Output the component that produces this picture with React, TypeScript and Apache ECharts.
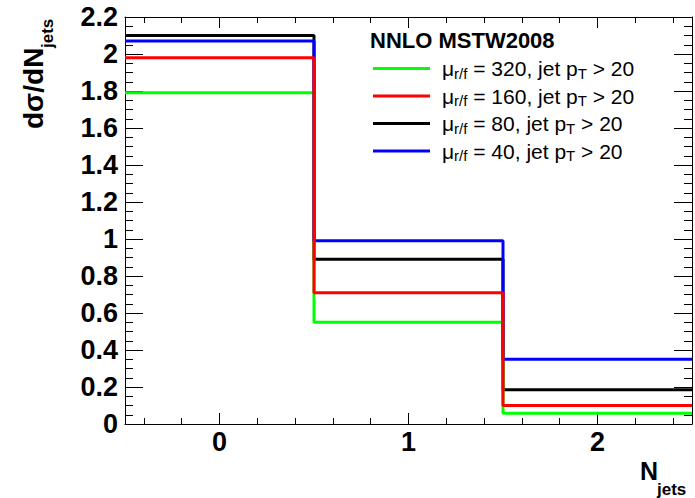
import React, { useEffect, useRef } from "react";
import * as echarts from "echarts";

// Bin centres (N_jets) and bin edges
const binCenters = [0, 1, 2];
const binWidth = 1;

// Series: scale mu_r/f values and dσ/dN_jets per bin
const scales = ["320", "160", "80", "40"];
const ptCut = 20;
const mu320 = [1.79, 0.55, 0.058];
const mu160 = [1.98, 0.71, 0.1];
const mu80 = [2.1, 0.89, 0.185];
const mu40 = [2.07, 0.99, 0.35];

const seriesValues = [mu320, mu160, mu80, mu40];
const seriesColors = ["#00ff00", "#ff0000", "#000000", "#0000ff"];
const seriesZ = [3, 5, 2, 4];

// Tick ranges / steps (x)
const xMinorRange = [-0.4, 2.4];
const xMinorStep = 0.2;
const xMajorRange = [0, 2];
const xMajorStep = 1;
// y axis
const yMin = 0;
const yMax = 2.2;
const yInterval = 0.2;

const FONT = "Liberation Sans";

function stepData(vals: number[]) {
  const pts: [number, number][] = [];
  vals.forEach((v, i) => {
    pts.push([binCenters[i] - binWidth / 2, v]);
    pts.push([binCenters[i] + binWidth / 2, v]);
  });
  return pts;
}

export default function App() {
  const ref = useRef<HTMLDivElement>(null);
  useEffect(() => {
    if (!ref.current) return;
    const chart = echarts.init(ref.current, null, { renderer: "svg" });
    const xMin = binCenters[0] - binWidth / 2;
    const xMax = binCenters[binCenters.length - 1] + binWidth / 2;

    // main plot frame
    const G = { left: 125, top: 17, width: 567, height: 407 };
    const pxPerUnit = G.width / (xMax - xMin);
    const subGrid = (r: number[]) => ({
      left: G.left + (r[0] - xMin) * pxPerUnit,
      top: G.top,
      width: (r[1] - r[0]) * pxPerUnit,
      height: G.height,
      containLabel: false,
    });

    const axisLine = { show: true, onZero: false, lineStyle: { color: "#000", width: 1 } };
    const noLine = { show: false, onZero: false };
    const tickStyle = { color: "#000", width: 1 };

    const tickAxis = (gridIndex: number, r: number[], step: number, position: string, len: number, labels: boolean) => ({
      type: "value",
      gridIndex,
      min: r[0],
      max: r[1],
      interval: step,
      position,
      axisLine: noLine,
      splitLine: { show: false },
      axisTick: { show: true, inside: true, length: len, lineStyle: tickStyle },
      axisLabel: labels
        ? { show: true, fontFamily: FONT, fontWeight: "bold", fontSize: 27, color: "#000", margin: 4 }
        : { show: false },
    });

    const hiddenY = (gridIndex: number) => ({
      type: "value",
      gridIndex,
      min: yMin,
      max: yMax,
      show: false,
    });

    const option: any = {
      animation: false,
      backgroundColor: "#fff",
      grid: [{ ...G, containLabel: false }, subGrid(xMinorRange), subGrid(xMajorRange)],
      xAxis: [
        {
          type: "value",
          gridIndex: 0,
          min: xMin,
          max: xMax,
          position: "bottom",
          axisLine,
          axisTick: { show: false },
          axisLabel: { show: false },
          splitLine: { show: false },
        },
        {
          type: "value",
          gridIndex: 0,
          min: xMin,
          max: xMax,
          position: "top",
          axisLine,
          axisTick: { show: false },
          axisLabel: { show: false },
          splitLine: { show: false },
        },
        tickAxis(1, xMinorRange, xMinorStep, "bottom", 6, false),
        tickAxis(1, xMinorRange, xMinorStep, "top", 6, false),
        tickAxis(2, xMajorRange, xMajorStep, "bottom", 11, true),
        tickAxis(2, xMajorRange, xMajorStep, "top", 11, false),
      ],
      yAxis: [
        {
          type: "value",
          gridIndex: 0,
          min: yMin,
          max: yMax,
          interval: yInterval,
          position: "left",
          axisLine,
          splitLine: { show: false },
          axisTick: { show: true, inside: true, length: 18, lineStyle: tickStyle },
          minorTick: { show: true, splitNumber: 4, length: 8, lineStyle: tickStyle },
          minorSplitLine: { show: false },
          axisLabel: {
            fontFamily: FONT,
            fontWeight: "bold",
            fontSize: 27,
            color: "#000",
            margin: 7,
            formatter: (v: number) => String(parseFloat(v.toFixed(1))),
          },
        },
        {
          type: "value",
          gridIndex: 0,
          min: yMin,
          max: yMax,
          interval: yInterval,
          position: "right",
          axisLine,
          splitLine: { show: false },
          axisTick: { show: true, inside: true, length: 18, lineStyle: tickStyle },
          minorTick: { show: true, splitNumber: 4, length: 8, lineStyle: tickStyle },
          minorSplitLine: { show: false },
          axisLabel: { show: false },
        },
        hiddenY(1),
        hiddenY(2),
      ],
      legend: {
        orient: "vertical",
        left: 373,
        top: 58,
        icon: "rect",
        itemWidth: 57,
        itemHeight: 3,
        itemGap: 5,
        padding: 0,
        data: scales,
        formatter: (name: string) =>
          `{mu|μ}{sub|r/f}{t| = ${name}, jet p}{sub|T}{t| > ${ptCut}}`,
        textStyle: {
          fontFamily: FONT,
          color: "#000",
          rich: {
            mu: { fontFamily: FONT, fontSize: 21, lineHeight: 24, color: "#000", padding: [0, 0, 0, 7] },
            t: { fontFamily: FONT, fontSize: 21, lineHeight: 24, color: "#000" },
            sub: { fontFamily: FONT, fontSize: 15, lineHeight: 12, color: "#000", verticalAlign: "bottom" },
          },
        },
      },
      graphic: [
        {
          type: "text",
          x: 370,
          y: 40,
          style: {
            text: "NNLO MSTW2008",
            font: `bold 22px "${FONT}"`,
            fill: "#000",
            verticalAlign: "middle",
          },
        },
        {
          type: "text",
          x: 640,
          y: 471,
          style: { text: "N", font: `bold 25px "${FONT}"`, fill: "#000", verticalAlign: "middle" },
        },
        {
          type: "text",
          x: 657,
          y: 489,
          style: { text: "jets", font: `bold 17px "${FONT}"`, fill: "#000", verticalAlign: "middle" },
        },
        {
          type: "text",
          x: 33.5,
          y: 129,
          rotation: Math.PI / 2,
          style: { text: "dσ/dN", font: `bold 28px "${FONT}"`, fill: "#000", verticalAlign: "middle", align: "left" },
        },
        {
          type: "text",
          x: 47.5,
          y: 48,
          rotation: Math.PI / 2,
          style: { text: "jets", font: `bold 17px "${FONT}"`, fill: "#000", verticalAlign: "middle", align: "left" },
        },
      ],
      series: scales.map((name, i) => ({
        name,
        type: "line",
        xAxisIndex: 0,
        yAxisIndex: 0,
        data: stepData(seriesValues[i]),
        symbol: "none",
        showSymbol: false,
        z: seriesZ[i],
        lineStyle: { color: seriesColors[i], width: 3 },
        itemStyle: { color: seriesColors[i] },
      })),
    };
    chart.setOption(option);
    return () => chart.dispose();
  }, []);
  return <div ref={ref} style={{ width: 695, height: 498, position: "absolute", left: 0, top: 0 }} />;
}
